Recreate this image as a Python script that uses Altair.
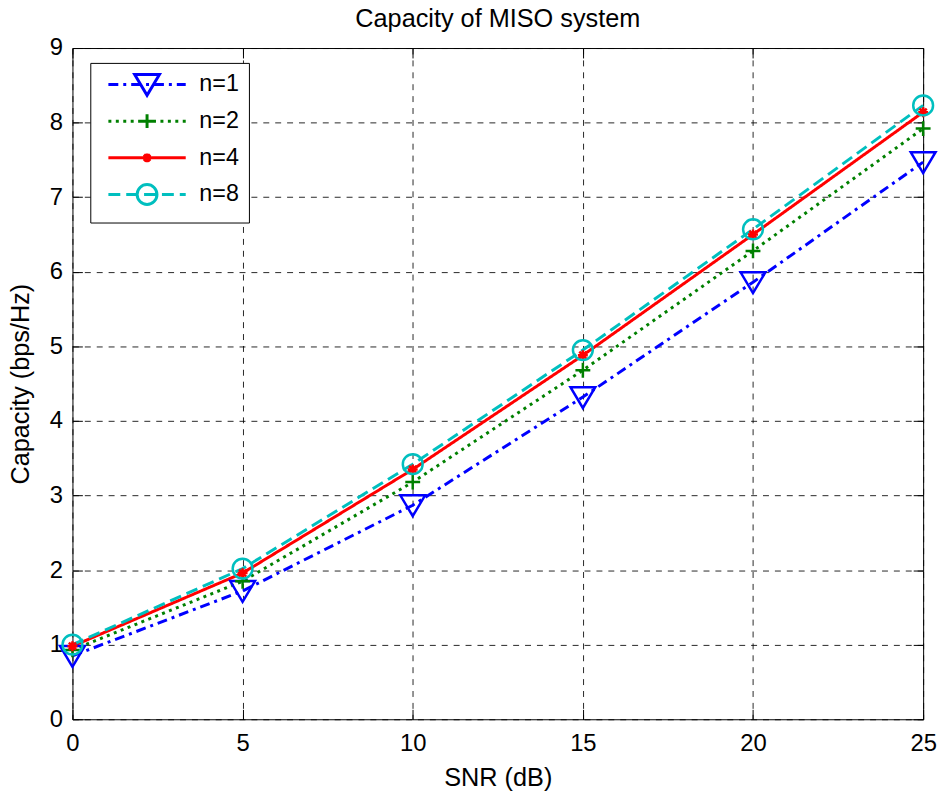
import altair as alt
import pandas as pd

# ---- data ----
snr_db = [0, 5, 10, 15, 20, 25]
series_names = ["n=1", "n=2", "n=4", "n=8"]
cap_n1 = [0.85, 1.72, 2.87, 4.32, 5.86, 7.47]
cap_n2 = [0.93, 1.85, 3.18, 4.68, 6.28, 7.92]
cap_n4 = [0.98, 1.96, 3.35, 4.88, 6.50, 8.14]
cap_n8 = [1.00, 2.02, 3.42, 4.95, 6.57, 8.23]
x_ticks = [0, 5, 10, 15, 20, 25]
y_ticks = [0, 1, 2, 3, 4, 5, 6, 7, 8, 9]

# ---- styles ----
colors = ["#0000FF", "#008000", "#FF0000", "#00BFBF"]
dash_patterns = [[10, 5, 3, 5], [3, 4.5], [1, 0], [12, 6]]
FONT = "Liberation Sans"

# marker paths for the plot (size 400 -> 10 px per unit)
marker_paths = [
    "M-1.25,-1L1.25,-1L0,1.1Z",
    "M-0.75,0L0.75,0M0,-0.75L0,0.75",
    "M-0.5,0L0.5,0M0,-0.5L0,0.5M-0.36,-0.36L0.36,0.36M-0.36,0.36L0.36,-0.36",
    "M1,0A1,1,0,1,1,-1,0A1,1,0,1,1,1,0Z",
]

# legend symbol paths: line segment (with dash pattern) + marker (size 256 -> 8 px per unit)
U = 8.0
HALF = 39.0
VEXT = 12.0


def seg_path(pattern):
    if pattern[1] == 0:
        return f"M{-HALF / U:.3f},0L{HALF / U:.3f},0"
    x = -HALF
    parts = []
    i = 0
    while x < HALF:
        L = pattern[i % len(pattern)]
        if i % 2 == 0:
            x2 = min(x + L, HALF)
            parts.append(f"M{x / U:.3f},0L{x2 / U:.3f},0")
        x += L
        i += 1
    return "".join(parts)


r = 10 / U
legend_markers = [
    f"M{-12.5 / U:.3f},{-10 / U:.3f}L{12.5 / U:.3f},{-10 / U:.3f}L0,{11 / U:.3f}Z",
    f"M{-7 / U:.3f},0L{7 / U:.3f},0M0,{-7 / U:.3f}L0,{7 / U:.3f}",
    f"M{-4.5 / U:.3f},0L{4.5 / U:.3f},0M0,{-4.5 / U:.3f}L0,{4.5 / U:.3f}M{-3.2 / U:.3f},{-3.2 / U:.3f}L{3.2 / U:.3f},{3.2 / U:.3f}M{-3.2 / U:.3f},{3.2 / U:.3f}L{3.2 / U:.3f},{-3.2 / U:.3f}",
    f"M{r:.3f},0A{r:.3f},{r:.3f},0,1,1,{-r:.3f},0A{r:.3f},{r:.3f},0,1,1,{r:.3f},0Z",
]
# equal vertical extent for every legend row
pad_moves = f"M0,{-VEXT / U:.3f}M0,{VEXT / U:.3f}"
legend_paths = [pad_moves + seg_path(p) + m for p, m in zip(dash_patterns, legend_markers)]

rows = []
for name, vals in zip(series_names, [cap_n1, cap_n2, cap_n4, cap_n8]):
    for s, c in zip(snr_db, vals):
        rows.append({"snr": s, "capacity": c, "series": name})
df = pd.DataFrame(rows)

xscale = alt.Scale(domain=[0, 25], nice=False, zero=False)
yscale = alt.Scale(domain=[0, 9], nice=False)

common_axis = dict(
    labelFont=FONT, titleFont=FONT, labelFontSize=24, titleFontSize=25.5,
    labelColor="black", titleColor="black", titleFontWeight="normal",
    grid=True, gridColor="black", gridDash=[6, 6], gridWidth=1, gridOpacity=0.85,
    ticks=False, domain=False, labelFlush=False, labelOverlap=False,
)
x_axis_main = alt.Axis(orient="bottom", values=x_ticks, title="SNR (dB)",
                       labelPadding=13, titlePadding=10, **common_axis)
y_axis_main = alt.Axis(orient="left", values=y_ticks, title="Capacity (bps/Hz)",
                       labelPadding=10, titlePadding=16, **common_axis)

lines = alt.Chart(df).mark_line(strokeWidth=3).encode(
    x=alt.X("snr:Q", scale=xscale, axis=x_axis_main),
    y=alt.Y("capacity:Q", scale=yscale, axis=y_axis_main),
    color=alt.Color("series:N", scale=alt.Scale(domain=series_names, range=colors), legend=None),
    strokeDash=alt.StrokeDash("series:N", scale=alt.Scale(domain=series_names, range=dash_patterns), legend=None),
)

points = alt.Chart(df).mark_point(filled=False, size=400, strokeWidth=2.5, opacity=1).encode(
    x=alt.X("snr:Q", scale=xscale, axis=None),
    y=alt.Y("capacity:Q", scale=yscale, axis=None),
    color=alt.Color("series:N", scale=alt.Scale(domain=series_names, range=colors), legend=None),
    shape=alt.Shape("series:N", scale=alt.Scale(domain=series_names, range=marker_paths), legend=None),
)

leg = alt.Legend(
    title=None, orient="none", legendX=18, legendY=15, direction="vertical",
    symbolSize=256, symbolStrokeWidth=3, symbolOffset=35.5, labelOffset=41,
    labelFont=FONT, labelFontSize=23.5, labelColor="black",
    strokeColor="black", fillColor="white", padding=10, rowPadding=0,
)

legend_layer = alt.Chart(df).transform_filter("datum.snr < 0").mark_point(
    filled=False, size=256, strokeWidth=3, opacity=1
).encode(
    x=alt.X("snr:Q", scale=xscale, axis=None),
    y=alt.Y("capacity:Q", scale=yscale, axis=None),
    color=alt.Color("series:N", scale=alt.Scale(domain=series_names, range=colors), legend=leg),
    shape=alt.Shape("series:N", scale=alt.Scale(domain=series_names, range=legend_paths), legend=leg),
)

tick_axis = dict(offset=-10, tickSize=10, ticks=True, tickColor="black", tickWidth=1,
                 labels=False, domain=False, grid=False, title=None)

ticks_lb = alt.Chart(df).transform_filter("datum.snr < 0").mark_point().encode(
    x=alt.X("snr:Q", scale=xscale, axis=alt.Axis(orient="bottom", values=x_ticks, **tick_axis)),
    y=alt.Y("capacity:Q", scale=yscale, axis=alt.Axis(orient="left", values=y_ticks, **tick_axis)),
)
ticks_rt = alt.Chart(df).transform_filter("datum.snr < 0").mark_point().encode(
    x=alt.X("snr:Q", scale=xscale, axis=alt.Axis(orient="top", values=x_ticks, **tick_axis)),
    y=alt.Y("capacity:Q", scale=yscale, axis=alt.Axis(orient="right", values=y_ticks, **tick_axis)),
)

chart = (
    alt.layer(lines, points, legend_layer, ticks_lb, ticks_rt)
    .resolve_scale(color="independent", shape="independent")
    .resolve_axis(x="independent", y="independent")
    .properties(
        width=858,
        height=677,
        title=alt.TitleParams("Capacity of MISO system", font=FONT, fontSize=25.5,
                              fontWeight="normal", color="black", anchor="middle",
                              offset=-16, baseline="alphabetic"),
        autosize=alt.AutoSizeParams(type="none"),
        padding={"left": 65, "top": 37, "right": 16, "bottom": 72},
        background="white",
    )
    .configure_view(stroke="black", strokeWidth=1)
)

chart.save("out.html", embed_options={"renderer": "svg", "actions": False})
